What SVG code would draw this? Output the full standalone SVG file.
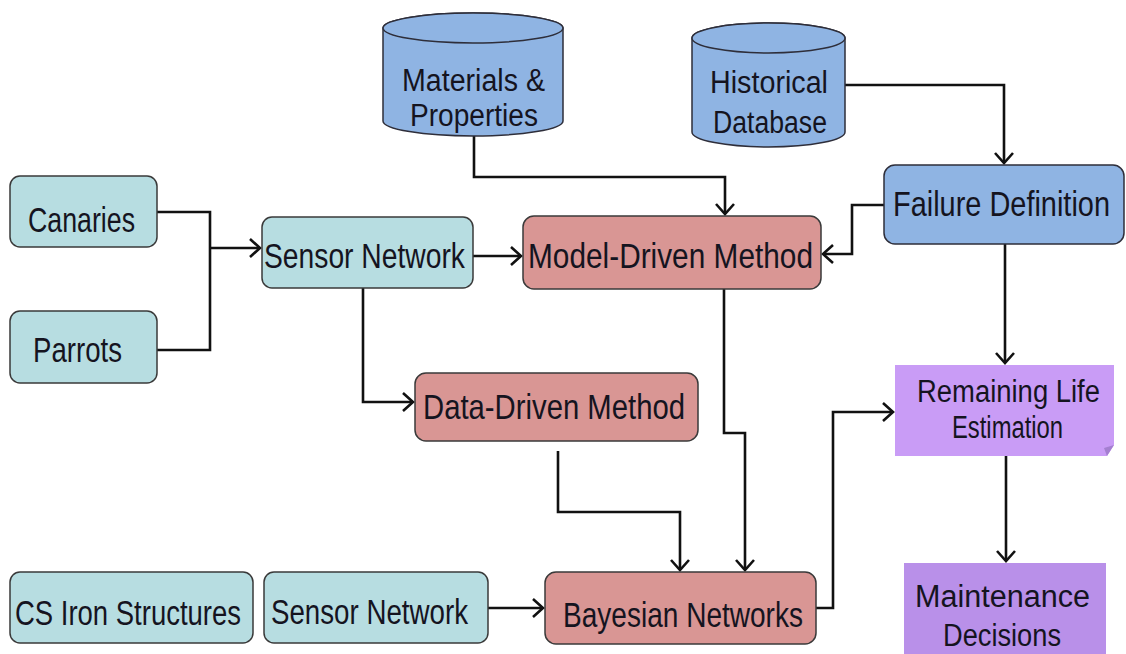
<svg xmlns="http://www.w3.org/2000/svg" width="1126" height="654" viewBox="0 0 1126 654">
<defs>
<marker id="arr" markerUnits="userSpaceOnUse" markerWidth="14" markerHeight="22" refX="11" refY="10" orient="auto">
<path d="M1,1 L11,10 L1,19" fill="none" stroke="#111" stroke-width="2.6"/>
</marker>
<style>
.cy{fill:#b7dde1;stroke:#3a3a3a;stroke-width:1.5}
.rd{fill:#d99694;stroke:#3a3a3a;stroke-width:1.5}
.bl{fill:#8fb4e3;stroke:#2e2e3a;stroke-width:1.5}
.t{font-family:"Liberation Sans",Arial,sans-serif;font-size:35px;fill:#15141f}
.t2{font-size:31px}
.c{fill:none;stroke:#111;stroke-width:2.6}
</style>
</defs>
<rect width="1126" height="654" fill="#fff"/>
<g id="connectors">
<path class="c" d="M474,136 V177 H725 V214" marker-end="url(#arr)"/>
<path class="c" d="M845,85 H1004 V163" marker-end="url(#arr)"/>
<path class="c" d="M157,212 H210 V350 H157"/>
<path class="c" d="M210,248 H260" stroke-width="4" marker-end="url(#arr)"/>
<path class="c" d="M473,256 H521" marker-end="url(#arr)"/>
<path class="c" d="M363,288 V402 H413" marker-end="url(#arr)"/>
<path class="c" d="M884,205 H852 V254 H823" marker-end="url(#arr)"/>
<path class="c" d="M1005,244 V363" marker-end="url(#arr)"/>
<path class="c" d="M724,289 V433 H745 V570" marker-end="url(#arr)"/>
<path class="c" d="M558,451 V512 H680 V570" marker-end="url(#arr)"/>
<path class="c" d="M816,608 H833 V412 H893" marker-end="url(#arr)"/>
<path class="c" d="M488,608 H543" marker-end="url(#arr)"/>
<path class="c" d="M1006,455 V561" marker-end="url(#arr)"/>
</g>
<g id="materials">
<path class="bl" d="M383,28 A90,15 0 0,1 563,28 V121 A90,15 0 0,1 383,121 Z"/>
<ellipse class="bl" cx="473" cy="28" rx="90" ry="15"/>
<text class="t t2" transform="translate(402,91) scale(0.8,1)" textLength="178.75" lengthAdjust="spacingAndGlyphs">Materials &amp;</text>
<text class="t t2" transform="translate(410,126) scale(0.8,1)" textLength="160" lengthAdjust="spacingAndGlyphs">Properties</text>
</g>
<g id="historical">
<path class="bl" d="M692,38 A76.5,15 0 0,1 845,38 V132 A76.5,15 0 0,1 692,132 Z"/>
<ellipse class="bl" cx="768.5" cy="38" rx="76.5" ry="15"/>
<text class="t t2" transform="translate(710,93) scale(0.8,1)" textLength="147.5" lengthAdjust="spacingAndGlyphs">Historical</text>
<text class="t t2" transform="translate(713,133) scale(0.8,1)" textLength="142.5" lengthAdjust="spacingAndGlyphs">Database</text>
</g>
<g id="canaries">
<rect class="cy" x="10" y="176" width="147" height="71" rx="10"/>
<text class="t" transform="translate(28,232) scale(0.8,1)" textLength="133.75" lengthAdjust="spacingAndGlyphs">Canaries</text>
</g>
<g id="parrots">
<rect class="cy" x="10" y="311" width="147" height="72" rx="10"/>
<text class="t" transform="translate(33,362) scale(0.8,1)" textLength="111.25" lengthAdjust="spacingAndGlyphs">Parrots</text>
</g>
<g id="sensor-top">
<rect class="cy" x="262" y="217" width="211" height="71" rx="10"/>
<text class="t" transform="translate(264,268) scale(0.8,1)" textLength="251.25" lengthAdjust="spacingAndGlyphs">Sensor Network</text>
</g>
<g id="model-driven">
<rect class="rd" x="523" y="216" width="298" height="73" rx="11"/>
<text class="t" transform="translate(528,268) scale(0.8,1)" textLength="356.25" lengthAdjust="spacingAndGlyphs">Model-Driven Method</text>
</g>
<g id="data-driven">
<rect class="rd" x="415" y="373" width="283" height="68" rx="11"/>
<text class="t" transform="translate(423,419) scale(0.8,1)" textLength="327.5" lengthAdjust="spacingAndGlyphs">Data-Driven Method</text>
</g>
<g id="failure">
<rect class="bl" x="884" y="165" width="240" height="79" rx="11"/>
<text class="t" transform="translate(893,216) scale(0.8,1)" textLength="271.25" lengthAdjust="spacingAndGlyphs">Failure Definition</text>
</g>
<g id="remaining">
<path d="M895,365 H1114 V445 L1107,456 H895 Z" fill="#c99cf6"/>
<path d="M1114,445 L1107,456 L1104,448 Z" fill="#a47fd0"/>
<text class="t t2" transform="translate(917,402) scale(0.8,1)" textLength="228.75" lengthAdjust="spacingAndGlyphs">Remaining Life</text>
<text class="t t2" transform="translate(952,438) scale(0.8,1)" textLength="138.75" lengthAdjust="spacingAndGlyphs">Estimation</text>
</g>
<g id="maintenance">
<rect x="904" y="563" width="202" height="95" fill="#b990e9"/>
<text class="t t2" transform="translate(915,607) scale(0.8,1)" textLength="218.75" lengthAdjust="spacingAndGlyphs">Maintenance</text>
<text class="t t2" transform="translate(943,646) scale(0.8,1)" textLength="147.5" lengthAdjust="spacingAndGlyphs">Decisions</text>
</g>
<g id="cs-iron">
<rect class="cy" x="10" y="572" width="243" height="71" rx="10"/>
<text class="t" transform="translate(15,625) scale(0.8,1)" textLength="282.5" lengthAdjust="spacingAndGlyphs">CS Iron Structures</text>
</g>
<g id="sensor-bottom">
<rect class="cy" x="264" y="572" width="224" height="71" rx="10"/>
<text class="t" transform="translate(271,624) scale(0.8,1)" textLength="246.25" lengthAdjust="spacingAndGlyphs">Sensor Network</text>
</g>
<g id="bayesian">
<rect class="rd" x="545" y="572" width="271" height="72" rx="11"/>
<text class="t" transform="translate(563,627) scale(0.8,1)" textLength="300" lengthAdjust="spacingAndGlyphs">Bayesian Networks</text>
</g>
</svg>
